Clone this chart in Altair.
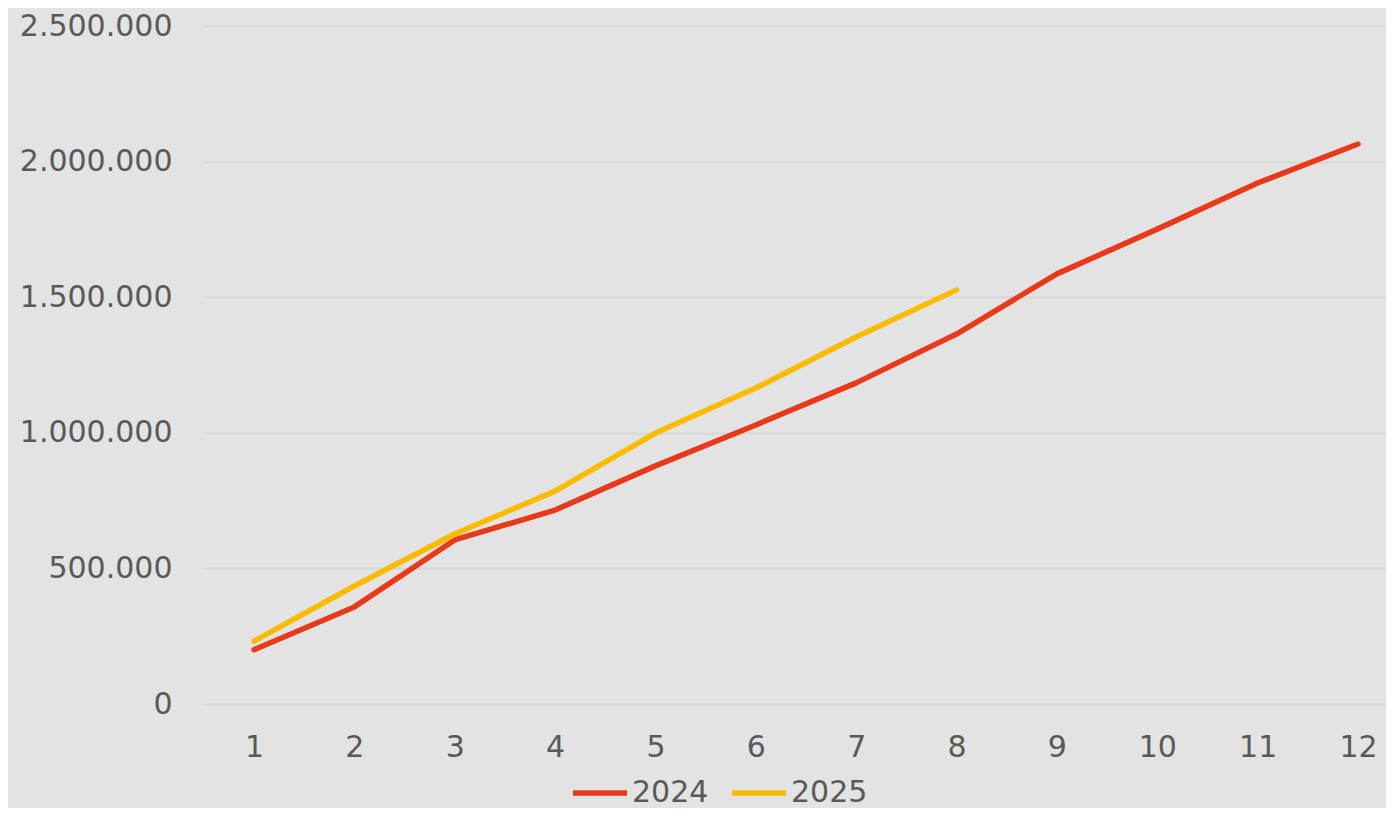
import altair as alt
import pandas as pd

months = [1, 2, 3, 4, 5, 6, 7, 8, 9, 10, 11, 12]
values_2024 = [200000, 358000, 605000, 715000, 878000, 1029000, 1184000, 1364000, 1586000, 1751000, 1921000, 2065000]
months_2025 = [1, 2, 3, 4, 5, 6, 7, 8]
values_2025 = [232000, 435000, 627000, 785000, 999000, 1165000, 1353000, 1527000]
y_ticks = [0, 500000, 1000000, 1500000, 2000000, 2500000]

rows = [{"Monat": m, "Wert": v, "Jahr": "2024"} for m, v in zip(months, values_2024)]
rows += [{"Monat": m, "Wert": v, "Jahr": "2025"} for m, v in zip(months_2025, values_2025)]
df = pd.DataFrame(rows)

FONT = "DejaVu Sans"
TXT = "#595959"

chart = alt.Chart(df).mark_line(strokeWidth=5.5, strokeCap="round", strokeJoin="round").encode(
    x=alt.X("Monat:Q",
            scale=alt.Scale(domain=[0.502, 12.279], nice=False, zero=False),
            axis=alt.Axis(values=months, title=None, grid=False, domain=False, ticks=False,
                          labelFont=FONT, labelFontSize=30, labelColor=TXT,
                          labelPadding=28, format="d", labelFlush=False)),
    y=alt.Y("Wert:Q",
            scale=alt.Scale(domain=[0, 2500000], nice=False),
            axis=alt.Axis(values=y_ticks, title=None, domain=False, ticks=False,
                          gridColor="#d8d8d8", gridWidth=2,
                          labelFont=FONT, labelFontSize=30, labelColor=TXT,
                          labelPadding=32,
                          labelExpr="replace(replace(format(datum.value, ','), ',', '.'), ',', '.')")),
    color=alt.Color("Jahr:N",
                    scale=alt.Scale(domain=["2024", "2025"], range=["#e8391a", "#fbbb00"]),
                    legend=alt.Legend(title=None, orient="none", direction="horizontal",
                                      legendX=366, legendY=737,
                                      symbolType="stroke", symbolSize=2916, symbolStrokeWidth=5.5,
                                      labelFont=FONT, labelFontSize=30, labelColor=TXT,
                                      labelOffset=2, columnPadding=12, symbolOffset=0)),
).properties(
    width=1182, height=678,
    background="#e3e3e3",
    autosize=alt.AutoSizeParams(type="none"),
    padding={"left": 196, "top": 18, "right": 0, "bottom": 104},
).configure_view(stroke=None, fill="#e3e3e3")

chart.save("out.html", embed_options={"renderer": "svg", "actions": False})
